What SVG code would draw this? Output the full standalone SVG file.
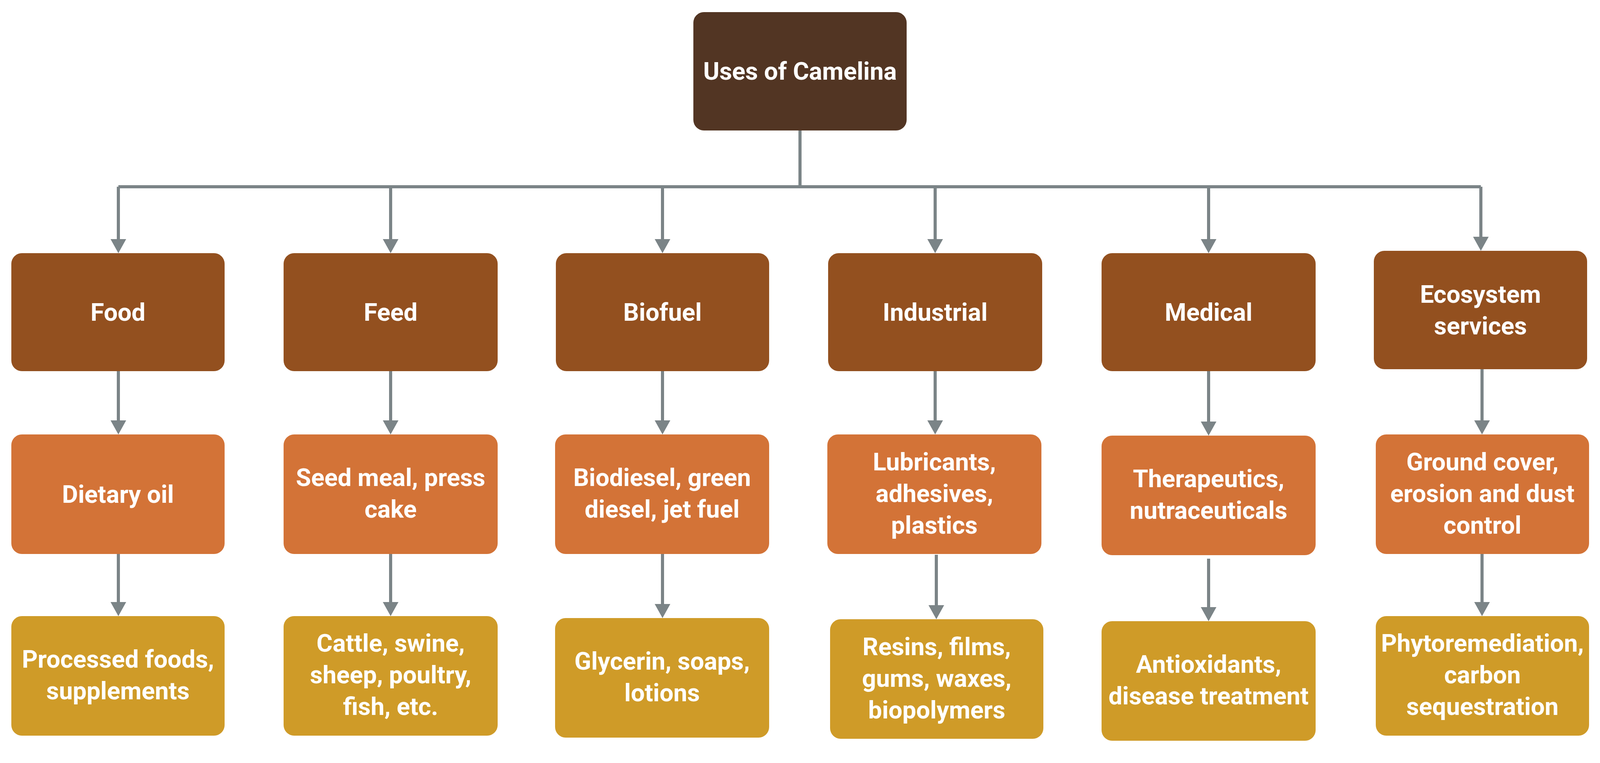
<svg xmlns="http://www.w3.org/2000/svg" width="4179" height="1953" viewBox="0 0 4179 1953">
<defs>
<marker id="ah" markerWidth="40" markerHeight="40" refX="0" refY="0" orient="auto" markerUnits="userSpaceOnUse" viewBox="-25 -20 40 40" style="overflow:visible">
<path d="M-26,-20 L10,0 L-26,20 Z" fill="#7b8487"/>
</marker>
<style>
.c{stroke:#7b8487;stroke-width:8;fill:none}
.a{marker-end:url(#ah)}
text{font-family:Roboto,"Liberation Sans",sans-serif;font-weight:bold;font-size:63px;fill:#fff;text-anchor:middle}
.t{fill:#523523}.l1{fill:#93501f}.l2{fill:#d37337}.l3{fill:#cf9b28}
</style>
</defs>
<rect width="4179" height="1953" fill="#fff"/>
<g id="connectors">
<path class="c" d="M2048,334 V478 M303,478 H3791"/>
<path class="c a" d="M303,478 V638"/><path class="c a" d="M1000,478 V638"/><path class="c a" d="M1696,478 V638"/><path class="c a" d="M2394,478 V638"/><path class="c a" d="M3094,478 V638"/><path class="c a" d="M3791,478 V632"/>
<path class="c a" d="M303,950 V1102"/><path class="c a" d="M1000,950 V1102"/><path class="c a" d="M1696,950 V1102"/><path class="c a" d="M2394,950 V1102"/><path class="c a" d="M3094,950 V1105"/><path class="c a" d="M3794,945 V1102"/>
<path class="c a" d="M303,1418 V1567"/><path class="c a" d="M1000,1418 V1567"/><path class="c a" d="M1696,1418 V1572"/><path class="c a" d="M2397,1420 V1575"/><path class="c a" d="M3094,1430 V1580"/><path class="c a" d="M3794,1418 V1567"/>
</g>
<g id="root"><rect class="t" x="1775" y="31" width="546" height="303" rx="27"/><text x="2048" y="204">Uses of Camelina</text></g>
<g id="food"><rect class="l1" x="29" y="648" width="546" height="302" rx="27"/><text x="302" y="821">Food</text></g>
<g id="feed"><rect class="l1" x="726" y="648" width="548" height="302" rx="27"/><text x="1000" y="821">Feed</text></g>
<g id="biofuel"><rect class="l1" x="1423" y="648" width="546" height="302" rx="27"/><text x="1696" y="821">Biofuel</text></g>
<g id="industrial"><rect class="l1" x="2120" y="648" width="548" height="302" rx="27"/><text x="2394" y="821">Industrial</text></g>
<g id="medical"><rect class="l1" x="2820" y="648" width="548" height="302" rx="27"/><text x="3094" y="821">Medical</text></g>
<g id="ecosystem"><rect class="l1" x="3517" y="642" width="546" height="303" rx="27"/><text x="3790" y="775">Ecosystem</text><text x="3790" y="856">services</text></g>
<g id="dietary"><rect class="l2" x="29" y="1112" width="546" height="306" rx="27"/><text x="302" y="1287">Dietary oil</text></g>
<g id="seedmeal"><rect class="l2" x="726" y="1112" width="548" height="306" rx="27"/><text x="1000" y="1244">Seed meal, press</text><text x="1000" y="1325">cake</text></g>
<g id="biodiesel"><rect class="l2" x="1421" y="1112" width="548" height="306" rx="27"/><text x="1695" y="1244">Biodiesel, green</text><text x="1695" y="1325">diesel, jet fuel</text></g>
<g id="lubricants"><rect class="l2" x="2118" y="1112" width="548" height="306" rx="27"/><text x="2392" y="1204">Lubricants,</text><text x="2392" y="1285">adhesives,</text><text x="2392" y="1366">plastics</text></g>
<g id="therapeutics"><rect class="l2" x="2820" y="1115" width="548" height="306" rx="27"/><text x="3094" y="1247">Therapeutics,</text><text x="3094" y="1328">nutraceuticals</text></g>
<g id="groundcover"><rect class="l2" x="3522" y="1112" width="546" height="306" rx="27"/><text x="3795" y="1204">Ground cover,</text><text x="3795" y="1285">erosion and dust</text><text x="3795" y="1366">control</text></g>
<g id="processed"><rect class="l3" x="29" y="1577" width="546" height="306" rx="27"/><text x="302" y="1709">Processed foods,</text><text x="302" y="1790">supplements</text></g>
<g id="cattle"><rect class="l3" x="726" y="1577" width="548" height="306" rx="27"/><text x="1000" y="1668">Cattle, swine,</text><text x="1000" y="1749">sheep, poultry,</text><text x="1000" y="1830">fish, etc.</text></g>
<g id="glycerin"><rect class="l3" x="1421" y="1582" width="548" height="306" rx="27"/><text x="1695" y="1714">Glycerin, soaps,</text><text x="1695" y="1795">lotions</text></g>
<g id="resins"><rect class="l3" x="2125" y="1585" width="546" height="306" rx="27"/><text x="2398" y="1677">Resins, films,</text><text x="2398" y="1758">gums, waxes,</text><text x="2398" y="1839">biopolymers</text></g>
<g id="antioxidants"><rect class="l3" x="2820" y="1590" width="548" height="306" rx="27"/><text x="3094" y="1722">Antioxidants,</text><text x="3094" y="1803">disease treatment</text></g>
<g id="phyto"><rect class="l3" x="3522" y="1577" width="546" height="306" rx="27"/><text x="3795" y="1668">Phytoremediation,</text><text x="3795" y="1749">carbon</text><text x="3795" y="1830">sequestration</text></g>
</svg>
